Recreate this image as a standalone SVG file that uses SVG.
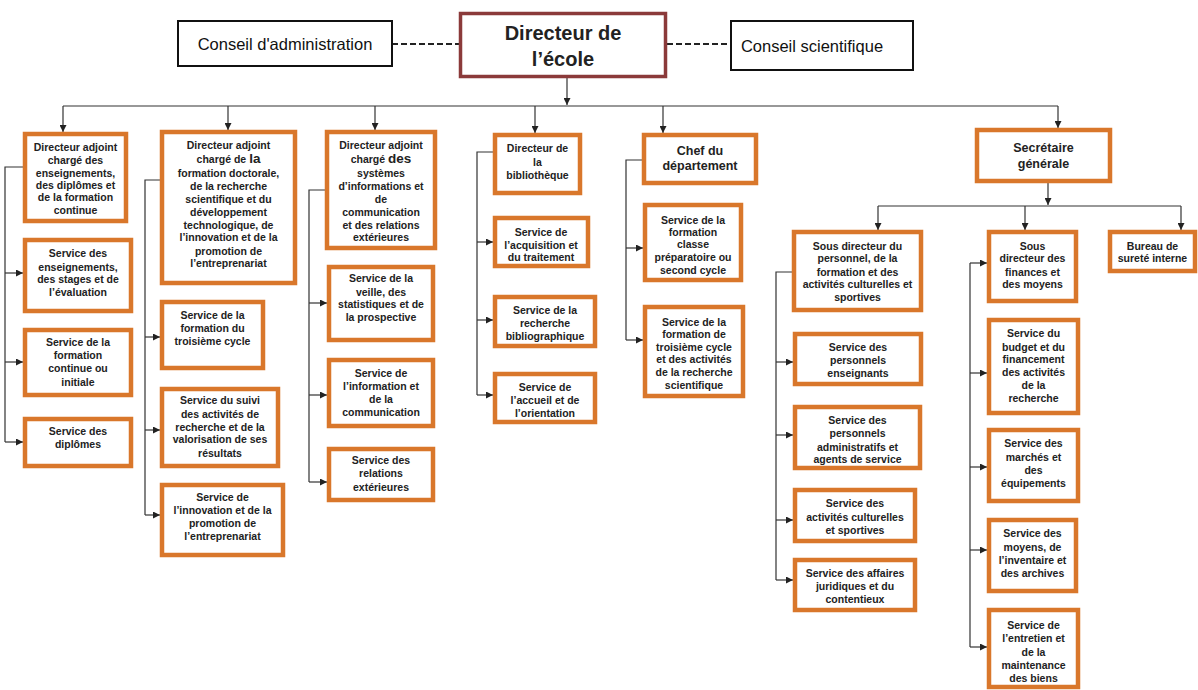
<svg xmlns="http://www.w3.org/2000/svg" width="1198" height="690" viewBox="0 0 1198 690">
<style>
.box{fill:#fff;stroke:#D9772B;stroke-width:4.5}
.top{fill:#fff;stroke:#111;stroke-width:2}
.dir{fill:#fff;stroke:#8B3A3A;stroke-width:3.5}
.t{font-family:"Liberation Sans",Arial,sans-serif;font-weight:bold;font-size:10.5px;fill:#222;text-anchor:middle}
.h{font-size:12.5px}
.big{font-size:13.5px}
.r{font-family:"Liberation Sans",Arial,sans-serif;font-size:16.5px;fill:#111;text-anchor:middle}
.c{stroke:#333;stroke-width:1.2;fill:none}
.a{stroke:#333;stroke-width:1.2;fill:none;marker-end:url(#ah)}
.d{stroke:#222;stroke-width:2;stroke-dasharray:6 3;fill:none}
</style>
<defs>
<marker id="ah" viewBox="0 0 8 8" refX="8" refY="4" markerWidth="7" markerHeight="7" markerUnits="userSpaceOnUse" orient="auto">
<path d="M0,0 L8,4 L0,8 z" fill="#222"/>
</marker>
</defs>
<rect width="1198" height="690" fill="#fff"/>

<g id="connectors">
<path class="d" d="M392,44 H459"/>
<path class="d" d="M667,44 H731"/>
<path class="a" d="M567,78 V105"/>
<path class="c" d="M63,106 H1058"/>
<path class="a" d="M63,106 V132"/>
<path class="a" d="M228,106 V130"/>
<path class="a" d="M375,106 V130"/>
<path class="a" d="M535,106 V133"/>
<path class="a" d="M663,106 V133"/>
<path class="a" d="M1058,106 V128"/>
<!-- col1 -->
<path class="c" d="M23,167 H5 V442"/>
<path class="a" d="M5,273 H23"/>
<path class="a" d="M5,362 H23"/>
<path class="a" d="M5,442 H23"/>
<!-- col2 -->
<path class="c" d="M160,180 H145 V515"/>
<path class="a" d="M145,337 H160"/>
<path class="a" d="M145,430 H160"/>
<path class="a" d="M145,515 H160"/>
<!-- col3 -->
<path class="c" d="M325,190 H309 V482"/>
<path class="a" d="M309,303 H327"/>
<path class="a" d="M309,395 H327"/>
<path class="a" d="M309,482 H327"/>
<!-- col4 -->
<path class="c" d="M493,152 H477 V395"/>
<path class="a" d="M477,242 H493"/>
<path class="a" d="M477,320 H493"/>
<path class="a" d="M477,395 H493"/>
<!-- col5 -->
<path class="c" d="M642,160 H626 V340"/>
<path class="a" d="M626,248 H643"/>
<path class="a" d="M626,340 H643"/>
<!-- SG -->
<path class="a" d="M1048,183 V205"/>
<path class="c" d="M878,206 H1181"/>
<path class="a" d="M878,206 V230"/>
<path class="a" d="M1025,206 V230"/>
<path class="a" d="M1181,206 V230"/>
<!-- SD personnel -->
<path class="c" d="M792,272 H776 V580"/>
<path class="a" d="M776,362 H793"/>
<path class="a" d="M776,435 H793"/>
<path class="a" d="M776,520 H793"/>
<path class="a" d="M776,580 H793"/>
<!-- SD finances -->
<path class="c" d="M970,263 V647"/>
<path class="a" d="M970,263 H987"/>
<path class="a" d="M970,373 H987"/>
<path class="a" d="M970,467 H987"/>
<path class="a" d="M970,550 H987"/>
<path class="a" d="M970,647 H987"/>
</g>

<g id="conseil-admin"><rect class="top" x="178" y="21" width="214" height="45"/><text class="r" x="285" y="49.5">Conseil d'administration</text></g>
<g id="directeur"><rect class="dir" x="460.5" y="13.5" width="205" height="63"/><text class="t" style="font-size:20px" x="563" y="40">Directeur de</text><text class="t" style="font-size:20px" x="563" y="66">l’école</text></g>
<g id="conseil-sci"><rect class="top" x="731" y="21" width="182" height="49"/><text class="r" x="812" y="51.5">Conseil scientifique</text></g>

<g id="da-ens"><rect class="box" x="25" y="134" width="101" height="87"/><text class="t" x="75.5" y="151">Directeur adjoint</text><text class="t" x="75.5" y="164">chargé des</text><text class="t" x="75.5" y="177">enseignements,</text><text class="t" x="75.5" y="189">des diplômes et</text><text class="t" x="75.5" y="201">de la formation</text><text class="t" x="75.5" y="214">continue</text></g>
<g id="s-ens"><rect class="box" x="25" y="240" width="106" height="71"/><text class="t" x="78" y="257">Service des</text><text class="t" x="78" y="271">enseignements,</text><text class="t" x="78" y="283">des stages et de</text><text class="t" x="78" y="296">l’évaluation</text></g>
<g id="s-fc"><rect class="box" x="25" y="330" width="106" height="65"/><text class="t" x="78" y="346">Service de la</text><text class="t" x="78" y="359">formation</text><text class="t" x="78" y="372">continue ou</text><text class="t" x="78" y="386">initiale</text></g>
<g id="s-dip"><rect class="box" x="25" y="419" width="106" height="47"/><text class="t" x="78" y="435">Service des</text><text class="t" x="78" y="448">diplômes</text></g>

<g id="da-doc"><rect class="box" x="162" y="132" width="133" height="151"/><text class="t" x="228.5" y="149">Directeur adjoint</text><text class="t" x="228.5" y="163">chargé de <tspan class="big">la</tspan></text><text class="t" x="228.5" y="177">formation doctorale,</text><text class="t" x="228.5" y="190">de la recherche</text><text class="t" x="228.5" y="203">scientifique et du</text><text class="t" x="228.5" y="216">développement</text><text class="t" x="228.5" y="229">technologique, de</text><text class="t" x="228.5" y="241">l’innovation et de la</text><text class="t" x="228.5" y="255">promotion de</text><text class="t" x="228.5" y="267">l’entreprenariat</text></g>
<g id="s-3c"><rect class="box" x="162" y="302" width="101" height="66"/><text class="t" x="212.5" y="319">Service de la</text><text class="t" x="212.5" y="332">formation du</text><text class="t" x="212.5" y="345">troisième cycle</text></g>
<g id="s-suivi"><rect class="box" x="162" y="389" width="116" height="77"/><text class="t" x="220" y="404">Service du suivi</text><text class="t" x="220" y="418">des activités de</text><text class="t" x="220" y="431">recherche et de la</text><text class="t" x="220" y="443">valorisation de ses</text><text class="t" x="220" y="457">résultats</text></g>
<g id="s-innov"><rect class="box" x="162" y="485" width="121" height="70"/><text class="t" x="222.5" y="501">Service de</text><text class="t" x="222.5" y="514">l’innovation et de la</text><text class="t" x="222.5" y="527">promotion de</text><text class="t" x="222.5" y="540">l’entreprenariat</text></g>

<g id="da-si"><rect class="box" x="327" y="132" width="108" height="116"/><text class="t" x="381" y="149">Directeur adjoint</text><text class="t" x="381" y="163">chargé <tspan class="big">des</tspan></text><text class="t" x="381" y="177">systèmes</text><text class="t" x="381" y="190">d’informations et</text><text class="t" x="381" y="203">de</text><text class="t" x="381" y="216">communication</text><text class="t" x="381" y="229">et des relations</text><text class="t" x="381" y="241">extérieures</text></g>
<g id="s-veille"><rect class="box" x="329" y="267" width="104" height="73"/><text class="t" x="381" y="282">Service de la</text><text class="t" x="381" y="296">veille, des</text><text class="t" x="381" y="308">statistiques et de</text><text class="t" x="381" y="321">la prospective</text></g>
<g id="s-info"><rect class="box" x="329" y="360" width="104" height="66"/><text class="t" x="381" y="377">Service de</text><text class="t" x="381" y="390">l’information et</text><text class="t" x="381" y="403">de la</text><text class="t" x="381" y="416">communication</text></g>
<g id="s-rel"><rect class="box" x="329" y="449" width="104" height="51"/><text class="t" x="381" y="464">Service des</text><text class="t" x="381" y="477">relations</text><text class="t" x="381" y="491">extérieures</text></g>

<g id="dir-bib"><rect class="box" x="495" y="135" width="85" height="58"/><text class="t" x="537.5" y="152">Directeur de</text><text class="t" x="537.5" y="166">la</text><text class="t" x="537.5" y="179">bibliothèque</text></g>
<g id="s-acq"><rect class="box" x="495" y="218" width="93" height="48"/><text class="t" x="541" y="236">Service de</text><text class="t" x="541" y="249">l’acquisition et</text><text class="t" x="541" y="261">du traitement</text></g>
<g id="s-biblio"><rect class="box" x="495" y="297" width="100" height="49"/><text class="t" x="545" y="314">Service de la</text><text class="t" x="545" y="327">recherche</text><text class="t" x="545" y="340">bibliographique</text></g>
<g id="s-accueil"><rect class="box" x="495" y="374" width="100" height="48"/><text class="t" x="545" y="391">Service de</text><text class="t" x="545" y="404">l’accueil et de</text><text class="t" x="545" y="417">l’orientation</text></g>

<g id="chef-dep"><rect class="box" x="644" y="135" width="112" height="48"/><text class="t h" x="700" y="154.5">Chef du</text><text class="t h" x="700" y="169.5">département</text></g>
<g id="s-prep"><rect class="box" x="645" y="205" width="96" height="75"/><text class="t" x="693" y="224">Service de la</text><text class="t" x="693" y="236">formation</text><text class="t" x="693" y="248">classe</text><text class="t" x="693" y="261">préparatoire ou</text><text class="t" x="693" y="274">second cycle</text></g>
<g id="s-3cr"><rect class="box" x="645" y="307" width="98" height="89"/><text class="t" x="694" y="326">Service de la</text><text class="t" x="694" y="338">formation de</text><text class="t" x="694" y="351">troisième cycle</text><text class="t" x="694" y="363">et des activités</text><text class="t" x="694" y="376">de la recherche</text><text class="t" x="694" y="389">scientifique</text></g>

<g id="sg"><rect class="box" x="977" y="130" width="133" height="51"/><text class="t h" x="1043.5" y="151.5">Secrétaire</text><text class="t h" x="1043.5" y="167.5">générale</text></g>
<g id="sd-pers"><rect class="box" x="794" y="232" width="127" height="78"/><text class="t" x="857.5" y="250">Sous directeur du</text><text class="t" x="857.5" y="262">personnel, de la</text><text class="t" x="857.5" y="276">formation et des</text><text class="t" x="857.5" y="288">activités culturelles et</text><text class="t" x="857.5" y="301">sportives</text></g>
<g id="sd-fin"><rect class="box" x="989" y="232" width="87" height="69"/><text class="t" x="1032.5" y="250">Sous</text><text class="t" x="1032.5" y="262">directeur des</text><text class="t" x="1032.5" y="276">finances et</text><text class="t" x="1032.5" y="288">des moyens</text></g>
<g id="bureau"><rect class="box" x="1110" y="232" width="85" height="39"/><text class="t" x="1152.5" y="250">Bureau de</text><text class="t" x="1152.5" y="262">sureté interne</text></g>

<g id="s-pe"><rect class="box" x="795" y="334" width="126" height="50"/><text class="t" x="858" y="351">Service des</text><text class="t" x="858" y="364">personnels</text><text class="t" x="858" y="377">enseignants</text></g>
<g id="s-adm"><rect class="box" x="795" y="407" width="125" height="61"/><text class="t" x="857.5" y="424">Service des</text><text class="t" x="857.5" y="437">personnels</text><text class="t" x="857.5" y="451">administratifs et</text><text class="t" x="857.5" y="463">agents de service</text></g>
<g id="s-cult"><rect class="box" x="795" y="490" width="120" height="51"/><text class="t" x="855" y="507">Service des</text><text class="t" x="855" y="521">activités culturelles</text><text class="t" x="855" y="534">et sportives</text></g>
<g id="s-jur"><rect class="box" x="795" y="560" width="120" height="50"/><text class="t" x="855" y="577">Service des affaires</text><text class="t" x="855" y="590">juridiques et du</text><text class="t" x="855" y="603">contentieux</text></g>

<g id="s-budget"><rect class="box" x="989" y="320" width="89" height="93"/><text class="t" x="1033.5" y="337">Service du</text><text class="t" x="1033.5" y="351">budget et du</text><text class="t" x="1033.5" y="363">financement</text><text class="t" x="1033.5" y="376">des activités</text><text class="t" x="1033.5" y="389">de la</text><text class="t" x="1033.5" y="402">recherche</text></g>
<g id="s-march"><rect class="box" x="989" y="430" width="89" height="71"/><text class="t" x="1033.5" y="447">Service des</text><text class="t" x="1033.5" y="461">marchés et</text><text class="t" x="1033.5" y="474">des</text><text class="t" x="1033.5" y="487">équipements</text></g>
<g id="s-moyens"><rect class="box" x="989" y="520" width="87" height="71"/><text class="t" x="1032.5" y="537">Service des</text><text class="t" x="1032.5" y="551">moyens, de</text><text class="t" x="1032.5" y="564">l’inventaire et</text><text class="t" x="1032.5" y="577">des archives</text></g>
<g id="s-entr"><rect class="box" x="989" y="610" width="89" height="77"/><text class="t" x="1033.5" y="629">Service de</text><text class="t" x="1033.5" y="642">l’entretien et</text><text class="t" x="1033.5" y="656">de la</text><text class="t" x="1033.5" y="669">maintenance</text><text class="t" x="1033.5" y="682">des biens</text></g>
</svg>
